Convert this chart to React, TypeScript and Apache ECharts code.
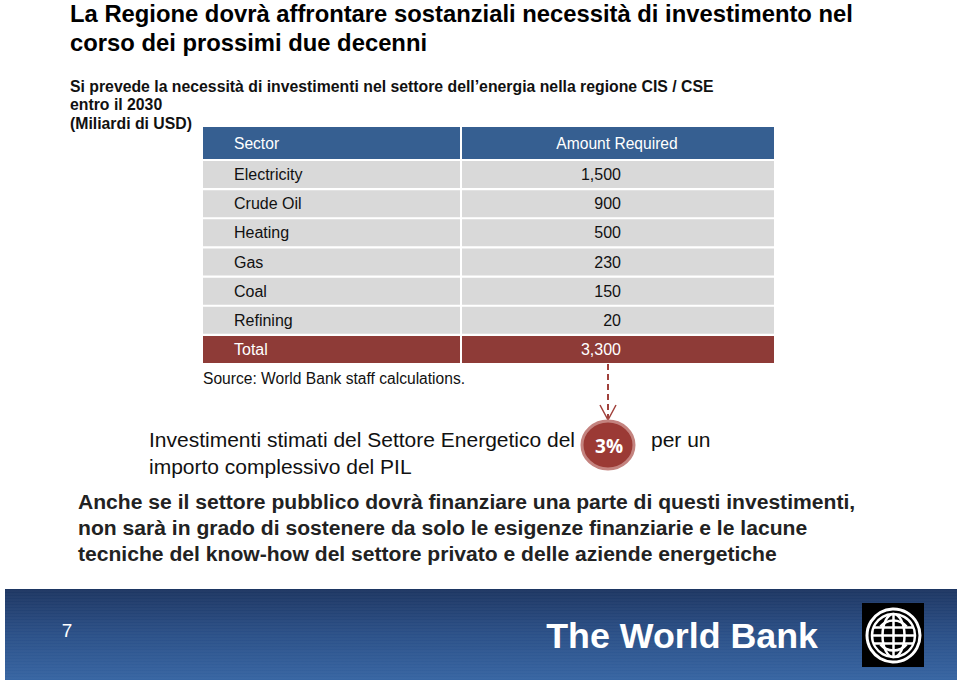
import React, { useEffect, useRef } from "react";
import * as echarts from "echarts";

const titleLines = [
  "La Regione dovrà affrontare sostanziali necessità di investimento nel",
  "corso dei prossimi due decenni",
];
const subtitleLines = [
  "Si prevede la necessità di investimenti nel settore dell’energia nella regione CIS / CSE",
  "entro il 2030",
  "(Miliardi di USD)",
];
const headers = ["Sector", "Amount Required"];
const sectors = ["Electricity", "Crude Oil", "Heating", "Gas", "Coal", "Refining"];
const amounts = [1500, 900, 500, 230, 150, 20];
const totalLabel = "Total";
const totalAmount = 3300;
const sourceNote = "Source: World Bank staff calculations.";
const gdpShare = "3%";
const estimateLines = ["Investimenti stimati del Settore Energetico del", "per un", "importo complessivo del PIL"];
const boldLines = [
  "Anche se il settore pubblico dovrà finanziare una parte di questi investimenti,",
  "non sarà in grado di sostenere da solo le esigenze finanziarie e le lacune",
  "tecniche del know-how del settore privato e delle aziende energetiche",
];
const pageNumber = "7";
const brand = "The World Bank";

const FONT = "'Liberation Sans', Arial, sans-serif";

export default function App() {
  const ref = useRef<HTMLDivElement>(null);
  useEffect(() => {
    if (!ref.current) return;
    const chart = echarts.init(ref.current, null, { renderer: "svg" });
    const g: any[] = [];

    titleLines.forEach((t, i) =>
      g.push({
        type: "text",
        x: 70,
        y: 13 + i * 29,
        style: { text: t, font: `bold 23.8px ${FONT}`, fill: "#000", textVerticalAlign: "middle" },
      })
    );
    subtitleLines.forEach((t, i) =>
      g.push({
        type: "text",
        x: 70,
        y: 86 + i * 18.5,
        style: { text: t, font: `bold 15.8px ${FONT}`, fill: "#111", textVerticalAlign: "middle" },
      })
    );

    // table
    const tx0 = 203, tx1 = 774, colX = 460;
    const headTop = 127, headH = 32;
    const rowTop = 161, pitch = 29.17, rowH = 27;
    g.push({ type: "rect", shape: { x: tx0, y: headTop, width: tx1 - tx0, height: headH }, style: { fill: "#365f91" } });
    g.push({
      type: "text", x: 234, y: headTop + headH / 2,
      style: { text: headers[0], font: `15.6px ${FONT}`, fill: "#fff", textVerticalAlign: "middle" },
    });
    g.push({
      type: "text", x: 617, y: headTop + headH / 2,
      style: { text: headers[1], font: `15.6px ${FONT}`, fill: "#fff", textAlign: "center", textVerticalAlign: "middle" },
    });
    const rows = sectors.map((s, i) => ({ s, v: amounts[i], total: false }));
    rows.push({ s: totalLabel, v: totalAmount, total: true });
    rows.forEach((r, i) => {
      const y = rowTop + i * pitch;
      g.push({
        type: "rect",
        shape: { x: tx0, y, width: tx1 - tx0, height: rowH },
        style: { fill: r.total ? "#8e3b37" : "#d9d9d9" },
      });
      g.push({
        type: "text", x: 234, y: y + rowH / 2,
        style: { text: r.s, font: `16px ${FONT}`, fill: r.total ? "#fff" : "#111", textVerticalAlign: "middle" },
      });
      g.push({
        type: "text", x: 621, y: y + rowH / 2,
        style: {
          text: r.v.toLocaleString("en-US"),
          font: `16px ${FONT}`,
          fill: r.total ? "#fff" : "#111",
          textAlign: "right",
          textVerticalAlign: "middle",
        },
      });
    });
    g.push({
      type: "rect",
      shape: { x: colX, y: headTop, width: 2, height: rowTop + 6 * pitch + rowH - headTop },
      style: { fill: "#fff" },
    });
    g.push({
      type: "text", x: 203, y: 378,
      style: { text: sourceNote, font: `15.6px ${FONT}`, fill: "#111", textVerticalAlign: "middle" },
    });

    // arrow + bubble
    g.push({
      type: "line", shape: { x1: 608, y1: 364, x2: 608, y2: 418 },
      style: { stroke: "#a0403b", lineWidth: 2, lineDash: [6, 4] },
    });
    g.push({
      type: "polyline", shape: { points: [[600, 405], [608, 420], [616, 405]] },
      style: { stroke: "#a0403b", lineWidth: 1.5, fill: "none" },
    });
    g.push({
      type: "ellipse", shape: { cx: 608, cy: 445, rx: 26, ry: 24 },
      style: { fill: "#9b3a35", stroke: "#c4837f", lineWidth: 3 },
    });
    g.push({
      type: "text", x: 609, y: 446,
      style: { text: gdpShare, font: `bold 19px 'Open Sans', ${FONT}`, fill: "#fff", textAlign: "center", textVerticalAlign: "middle" },
    });
    g.push({
      type: "text", x: 149, y: 439,
      style: { text: estimateLines[0], font: `21px ${FONT}`, fill: "#111", textVerticalAlign: "middle" },
    });
    g.push({
      type: "text", x: 651, y: 439,
      style: { text: estimateLines[1], font: `21px ${FONT}`, fill: "#111", textVerticalAlign: "middle" },
    });
    g.push({
      type: "text", x: 149, y: 466,
      style: { text: estimateLines[2], font: `21px ${FONT}`, fill: "#111", textVerticalAlign: "middle" },
    });

    boldLines.forEach((t, i) =>
      g.push({
        type: "text", x: 78, y: 501 + i * 26,
        style: { text: t, font: `bold 21.1px ${FONT}`, fill: "#222", textVerticalAlign: "middle" },
      })
    );

    // footer
    g.push({
      type: "rect",
      shape: { x: 5, y: 589, width: 952, height: 91 },
      style: {
        fill: new echarts.graphic.LinearGradient(0, 0, 0, 1, [
          { offset: 0, color: "#1d3662" },
          { offset: 0.5, color: "#2b5088" },
          { offset: 1, color: "#3765a2" },
        ]),
      },
    });
    for (let y = 591; y < 679; y += 3) {
      g.push({
        type: "line", shape: { x1: 5, y1: y, x2: 957, y2: y },
        style: { stroke: "rgba(255,255,255,0.05)", lineWidth: 1 },
      });
    }
    g.push({
      type: "text", x: 67, y: 630,
      style: { text: pageNumber, font: `19px ${FONT}`, fill: "#fff", textAlign: "center", textVerticalAlign: "middle" },
    });
    g.push({
      type: "text", x: 818, y: 636,
      style: { text: brand, font: `bold 35.8px ${FONT}`, fill: "#fff", textAlign: "right", textVerticalAlign: "middle" },
    });
    // logo
    const cx = 893.5, cy = 635.5;
    g.push({ type: "rect", shape: { x: 862, y: 603, width: 62, height: 64 }, style: { fill: "#000" } });
    g.push({ type: "circle", shape: { cx, cy, r: 26.5 }, style: { fill: "none", stroke: "#fff", lineWidth: 3 } });
    g.push({ type: "circle", shape: { cx, cy, r: 21.5 }, style: { fill: "none", stroke: "#fff", lineWidth: 2.5 } });
    g.push({ type: "ellipse", shape: { cx, cy, rx: 11, ry: 21.5 }, style: { fill: "none", stroke: "#fff", lineWidth: 2.5 } });
    g.push({ type: "line", shape: { x1: cx, y1: cy - 21.5, x2: cx, y2: cy + 21.5 }, style: { stroke: "#fff", lineWidth: 2.5 } });
    g.push({ type: "line", shape: { x1: cx - 21.5, y1: cy, x2: cx + 21.5, y2: cy }, style: { stroke: "#fff", lineWidth: 2.5 } });
    [-8, 8].forEach((d) =>
      g.push({
        type: "line",
        shape: { x1: cx - Math.sqrt(21.5 * 21.5 - d * d), y1: cy + d, x2: cx + Math.sqrt(21.5 * 21.5 - d * d), y2: cy + d },
        style: { stroke: "#fff", lineWidth: 2.5 },
      })
    );
    g.push({
      type: "arc", shape: { cx, cy: cy + 2, r: 17, startAngle: Math.PI * 1.22, endAngle: Math.PI * 1.78 },
      style: { stroke: "#fff", lineWidth: 2.5, fill: "none" },
    });
    g.push({
      type: "arc", shape: { cx, cy: cy - 2, r: 17, startAngle: Math.PI * 0.22, endAngle: Math.PI * 0.78 },
      style: { stroke: "#fff", lineWidth: 2.5, fill: "none" },
    });

    chart.setOption({ animation: false, backgroundColor: "#fff", graphic: { elements: g } });
    return () => chart.dispose();
  }, []);
  return <div ref={ref} style={{ position: "fixed", left: 0, top: 0, width: 960, height: 683 }} />;
}
